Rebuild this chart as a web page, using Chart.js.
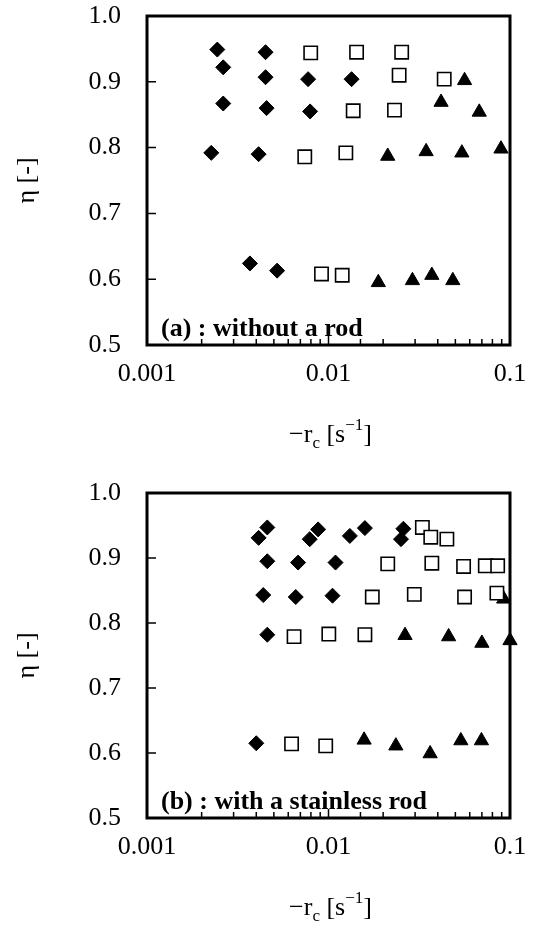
<!DOCTYPE html>
<html>
<head>
<meta charset="utf-8">
<script src="https://cdn.jsdelivr.net/npm/chart.js@4/dist/chart.umd.min.js"></script>
<style>
  html, body { margin: 0; padding: 0; background: #fff; }
  canvas { display: block; }
</style>
</head>
<body>
<canvas id="chartA" width="533" height="465"></canvas>
<canvas id="chartB" width="533" height="466"></canvas>
<script>
// (a) without a rod
const A_DIAMOND_X = [0.00244, 0.00263, 0.00450, 0.00450, 0.00772, 0.0134, 0.00263, 0.00456, 0.00792, 0.00226, 0.00412, 0.00369, 0.00521];
const A_DIAMOND_Y = [0.949, 0.922, 0.945, 0.907, 0.904, 0.904, 0.867, 0.860, 0.855, 0.792, 0.790, 0.624, 0.613];
const A_SQUARE_X = [0.00798, 0.01428, 0.0253, 0.0245, 0.0434, 0.01368, 0.0231, 0.00740, 0.01246, 0.00915, 0.0119];
const A_SQUARE_Y = [0.944, 0.945, 0.945, 0.910, 0.904, 0.856, 0.857, 0.786, 0.792, 0.608, 0.606];
const A_TRIANGLE_X = [0.0562, 0.0417, 0.0677, 0.0212, 0.0345, 0.0543, 0.0892, 0.01882, 0.0290, 0.0371, 0.0484];
const A_TRIANGLE_Y = [0.902, 0.869, 0.854, 0.787, 0.794, 0.792, 0.798, 0.595, 0.598, 0.606, 0.598];

// (b) with a stainless rod
const B_DIAMOND_X = [0.00460, 0.00412, 0.00877, 0.00788, 0.01311, 0.01587, 0.02585, 0.02509, 0.00460, 0.00680, 0.01093, 0.00437, 0.00660, 0.01052, 0.00460, 0.00400];
const B_DIAMOND_Y = [0.947, 0.931, 0.944, 0.929, 0.934, 0.946, 0.945, 0.929, 0.895, 0.893, 0.893, 0.843, 0.840, 0.842, 0.782, 0.615];
const B_SQUARE_X = [0.0329, 0.0366, 0.0449, 0.0212, 0.0371, 0.0555, 0.0731, 0.0855, 0.01743, 0.0297, 0.0562, 0.0847, 0.00646, 0.01004, 0.01587, 0.00626, 0.00965];
const B_SQUARE_Y = [0.947, 0.932, 0.929, 0.891, 0.892, 0.887, 0.888, 0.888, 0.840, 0.844, 0.840, 0.846, 0.779, 0.783, 0.782, 0.614, 0.611];
const B_TRIANGLE_X = [0.0923, 0.0264, 0.0459, 0.070, 0.1, 0.01571, 0.0235, 0.0363, 0.0536, 0.0696];
const B_TRIANGLE_Y = [0.837, 0.781, 0.779, 0.769, 0.773, 0.620, 0.611, 0.599, 0.619, 0.619];

const X_MIN = 0.001, X_MAX = 0.1;
const Y_MIN = 0.5, Y_MAX = 1.0;
const X_LABELS = [0.001, 0.01, 0.1];

const SERIF = '"Liberation Serif", "Times New Roman", serif';

const toPoints = (xs, ys) => xs.map((x, i) => ({ x, y: ys[i] }));
const isDecade = v => Math.abs(Math.log10(v) - Math.round(Math.log10(v))) < 1e-6;

function drawRcTitle(ctx, cx, baseY) {
  const big = '26px ' + SERIF, small = '17px ' + SERIF;
  const parts = [
    { t: '\u2212r', f: big, dy: 0 },
    { t: 'c', f: small, dy: 6 },
    { t: ' [s', f: big, dy: 0 },
    { t: '\u22121', f: small, dy: -12 },
    { t: ']', f: big, dy: 0 },
  ];
  let total = 0;
  parts.forEach(p => { ctx.font = p.f; p.w = ctx.measureText(p.t).width; total += p.w; });
  let x = cx - total / 2;
  ctx.textAlign = 'left';
  ctx.textBaseline = 'alphabetic';
  parts.forEach(p => {
    ctx.font = p.f;
    ctx.fillText(p.t, x, baseY + p.dy);
    x += p.w;
  });
}

const framePlugin = {
  id: 'frame',
  beforeDatasetsDraw(chart, args, opts) {
    const { ctx, chartArea: a, scales: { x, y } } = chart;
    ctx.save();
    ctx.strokeStyle = '#000';
    ctx.fillStyle = '#000';
    ctx.lineWidth = 1.5;
    ctx.beginPath();
    y.ticks.forEach(t => {
      if (t.value <= Y_MIN + 1e-9 || t.value >= Y_MAX - 1e-9) return;
      const py = y.getPixelForValue(t.value);
      ctx.moveTo(a.left, py);
      ctx.lineTo(a.left + 9, py);
    });
    x.ticks.forEach(t => {
      const px = x.getPixelForValue(t.value);
      if (px <= a.left + 2 || px >= a.right - 2) return;
      const len = isDecade(t.value) ? 9 : 6;
      ctx.moveTo(px, a.bottom);
      ctx.lineTo(px, a.bottom - len);
    });
    ctx.stroke();
    ctx.lineWidth = 3;
    ctx.strokeRect(a.left, a.top, a.right - a.left, a.bottom - a.top);

    ctx.font = 'bold 26px ' + SERIF;
    ctx.textAlign = 'left';
    ctx.textBaseline = 'alphabetic';
    ctx.fillText(opts.label, a.left + 14, a.bottom - 9);
    ctx.restore();
  },
  afterDraw(chart, args, opts) {
    const { ctx, chartArea: a } = chart;
    ctx.save();
    ctx.fillStyle = '#000';
    drawRcTitle(ctx, (a.left + a.right) / 2 + 2, a.bottom + opts.titleOffset);
    ctx.restore();
  }
};

function makeChart(id, label, padTop, plotBottom, d, s, t) {
  const canvas = document.getElementById(id);
  const h = canvas.height;
  return new Chart(canvas, {
    type: 'scatter',
    data: {
      datasets: [
        {
          data: d,
          pointStyle: 'rectRot', pointRadius: 7.5,
          backgroundColor: '#000', borderColor: '#000', borderWidth: 1,
        },
        {
          data: s,
          pointStyle: 'rect', pointRadius: 9.4,
          backgroundColor: '#fff', borderColor: '#000', borderWidth: 1.6,
        },
        {
          data: t,
          pointStyle: 'triangle', pointRadius: 8.2,
          backgroundColor: '#000', borderColor: '#000', borderWidth: 1,
        },
      ],
    },
    options: {
      responsive: false,
      animation: false,
      clip: false,
      layout: { padding: { top: padTop, right: 23, left: 0, bottom: 0 } },
      plugins: {
        legend: { display: false },
        tooltip: { enabled: false },
        frame: { label, titleOffset: 97 },
      },
      scales: {
        x: {
          type: 'logarithmic',
          min: X_MIN, max: X_MAX,
          grid: { display: false, drawTicks: false },
          border: { display: false },
          afterFit: sc => {
            sc.height = h - plotBottom;
            sc.paddingLeft = 0;
            sc.paddingRight = 0;
          },
          ticks: {
            autoSkip: false, maxRotation: 0, padding: 14,
            color: '#000',
            font: { family: SERIF, size: 26 },
            callback: v => X_LABELS.find(l => Math.abs(l - v) / l < 1e-6) ? String(v) : '',
          },
        },
        y: {
          min: Y_MIN, max: Y_MAX,
          grid: { display: false, drawTicks: false },
          border: { display: false },
          afterFit: sc => {
            sc.width = 147;
            sc.paddingTop = 0;
            sc.paddingBottom = 0;
          },
          title: {
            display: true, text: '\u03b7 [-]', color: '#000',
            font: { family: SERIF, size: 26 },
            padding: { top: 12, bottom: 0 },
          },
          ticks: {
            stepSize: 0.1, padding: 26, color: '#000',
            font: { family: SERIF, size: 26 },
            callback: v => v.toFixed(1),
          },
        },
      },
    },
    plugins: [framePlugin],
  });
}

makeChart('chartA', '(a) : without a rod', 16, 345,
  toPoints(A_DIAMOND_X, A_DIAMOND_Y), toPoints(A_SQUARE_X, A_SQUARE_Y), toPoints(A_TRIANGLE_X, A_TRIANGLE_Y));
makeChart('chartB', '(b) : with a stainless rod', 28, 353,
  toPoints(B_DIAMOND_X, B_DIAMOND_Y), toPoints(B_SQUARE_X, B_SQUARE_Y), toPoints(B_TRIANGLE_X, B_TRIANGLE_Y));
</script>
</body>
</html>
